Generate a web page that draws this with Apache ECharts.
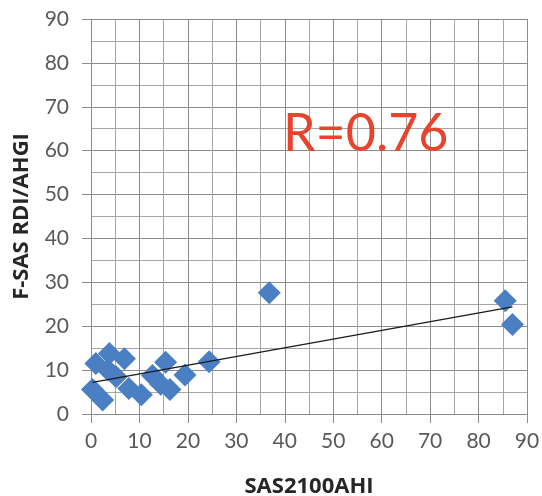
<!DOCTYPE html>
<html>
<head>
<meta charset="utf-8">
<script src="https://cdn.jsdelivr.net/npm/echarts@6/dist/echarts.min.js"></script>
<style>
  html, body { margin: 0; padding: 0; background: #fff; }
  #chart { width: 542px; height: 496px; }
</style>
</head>
<body>
<div id="chart"></div>
<script>
// SAS2100 AHI vs F-SAS RDI/AHGI
const sasAhi = [0.3, 1, 3.8, 6.9, 3.5, 2.4, 7.8, 5.2, 10.4, 12.7, 14.4, 15.4, 16.3, 19.4, 24.4, 36.8, 85.5, 87];
const fsasRdi = [5.6, 11.5, 13.8, 12.6, 10, 3.2, 5.8, 8.5, 4.4, 8.8, 6.8, 11.8, 5.6, 8.9, 11.9, 27.6, 25.8, 20.4];

// fitted trend line endpoints
const trendX = [0.3, 87];
const trendY = [7.2, 24.4];

const axisTicks = { min: 0, max: 90, interval: 10 };
const rLabel = 'R=0.76';

const points = sasAhi.map((x, i) => [x, fsasRdi[i]]);
const trend = trendX.map((x, i) => [x, trendY[i]]);

const chart = echarts.init(document.getElementById('chart'), null, { renderer: 'canvas' });

const gridLine = { show: true, lineStyle: { color: '#8c8c8c', width: 1 } };
const labelStyle = { fontFamily: 'Lato', fontSize: 21, color: '#595959' };
const nameStyle = { fontFamily: 'Open Sans', fontWeight: 'bold', fontSize: 22, color: '#262626' };

chart.setOption({
  animation: false,
  backgroundColor: '#fff',
  grid: { left: 91, right: 15, top: 19, bottom: 82, outerBoundsMode: 'none' },
  xAxis: {
    type: 'value',
    min: axisTicks.min,
    max: axisTicks.max,
    interval: axisTicks.interval,
    name: 'SAS2100AHI',
    nameLocation: 'middle',
    nameGap: 62,
    nameTextStyle: nameStyle,
    axisLine: { show: true, lineStyle: { color: '#8c8c8c' } },
    axisTick: { show: true, length: 9, lineStyle: { color: '#8c8c8c' } },
    axisLabel: Object.assign({ margin: 17 }, labelStyle),
    splitLine: gridLine,
    minorTick: { show: false, splitNumber: 2 },
    minorSplitLine: { show: true, lineStyle: { color: '#a6a6a6', width: 1 } }
  },
  yAxis: {
    type: 'value',
    min: axisTicks.min,
    max: axisTicks.max,
    interval: axisTicks.interval,
    name: 'F-SAS RDI/AHGI',
    nameLocation: 'middle',
    nameGap: 58,
    nameTextStyle: nameStyle,
    axisLine: { show: true, lineStyle: { color: '#8c8c8c' } },
    axisTick: { show: true, length: 9, lineStyle: { color: '#8c8c8c' } },
    axisLabel: Object.assign({ margin: 22 }, labelStyle),
    splitLine: gridLine,
    minorTick: { show: false, splitNumber: 2 },
    minorSplitLine: { show: true, lineStyle: { color: '#a6a6a6', width: 1 } }
  },
  series: [
    {
      type: 'line',
      data: trend,
      symbol: 'none',
      lineStyle: { color: '#1a1a1a', width: 1.3 },
      z: 3
    },
    {
      type: 'scatter',
      data: points,
      symbol: 'diamond',
      symbolSize: 23,
      itemStyle: { color: '#4a7fc3', opacity: 1 },
      z: 2
    }
  ],
  graphic: [
    {
      type: 'text',
      left: 283,
      top: 108,
      z: 10,
      style: {
        text: rLabel,
        fontFamily: 'Lato',
        fontSize: 52,
        fill: '#e8432d'
      }
    }
  ]
});
</script>
</body>
</html>
